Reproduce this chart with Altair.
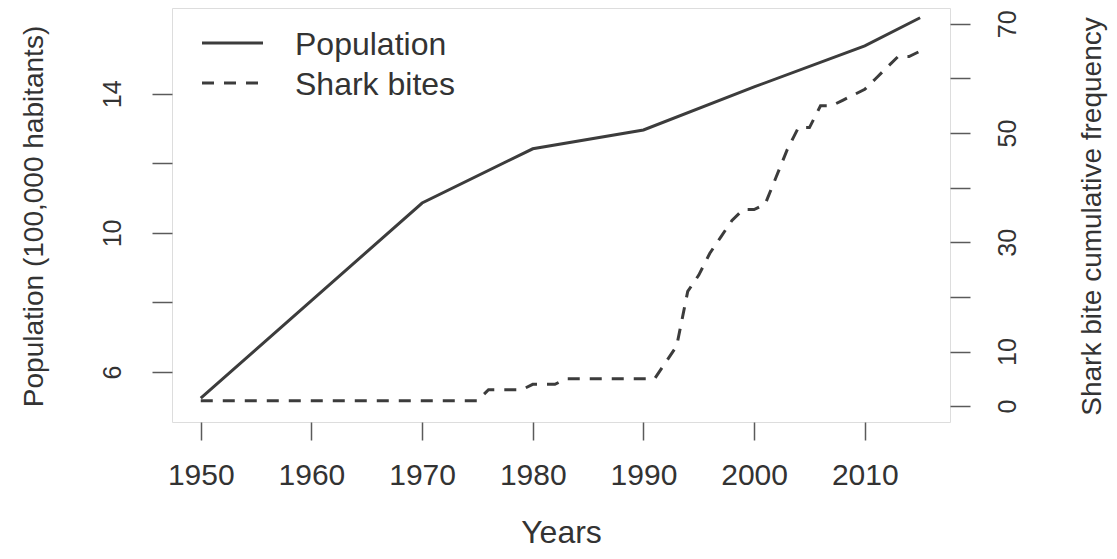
import altair as alt
import pandas as pd

# ---- data ----
pop_years = [1950, 1960, 1970, 1980, 1990, 2000, 2010, 2015]
pop_values = [5.25, 8.05, 10.86, 12.42, 12.96, 14.2, 15.38, 16.19]

shark_years = list(range(1950, 2016))
shark_values = (
    [1] * 26                      # 1950-1975
    + [3, 3, 3, 3]                # 1976-1979
    + [4, 4, 4]                   # 1980-1982
    + [5] * 9                     # 1983-1991
    + [8, 11, 21, 24, 28, 31, 34, 36, 36]   # 1992-2000
    + [37, 42, 47, 51, 51, 55, 55, 56, 57, 58]  # 2001-2010
    + [60, 62, 64, 64, 65]        # 2011-2015
)

x_ticks = [1950, 1960, 1970, 1980, 1990, 2000, 2010]
left_ticks = [6, 8, 10, 12, 14]
right_ticks = [0, 10, 20, 30, 40, 50, 60, 70]
legend_labels = ["Population", "Shark bites"]

FONT = "Liberation Sans"
LINE = "#3c3c3c"
AX = "#5a5a5a"
TXT = "#333333"

pop_df = pd.DataFrame({"year": pop_years, "pop": pop_values})
shark_df = pd.DataFrame({"year": shark_years, "bites": shark_values})

x_scale = alt.Scale(domain=[1947.4, 2017.7], nice=False, zero=False)

x_axis = alt.Axis(
    values=x_ticks, format="d", domain=False, grid=False,
    tickSize=18, tickWidth=1.5, tickColor=AX,
    labelFontSize=30, labelFont=FONT, labelColor=TXT, labelPadding=20,
    title="Years", titleFontSize=32, titleFont=FONT, titleFontWeight="normal",
    titleColor=TXT, titleY=110, titleBaseline="middle",
)

left_axis = alt.Axis(
    values=left_ticks, domain=False, grid=False,
    tickSize=20, tickWidth=1.5, tickColor=AX,
    labelExpr="datum.value % 4 == 2 ? datum.label : ''",
    labelAngle=270, labelAlign="center", labelBaseline="alphabetic",
    labelFontSize=25, labelFont=FONT, labelColor=TXT, labelPadding=32,
    title="Population (100,000 habitants)", titleFontSize=28, titleFont=FONT,
    titleFontWeight="normal", titleColor=TXT, titleAngle=270,
    titleBaseline="middle", titleAlign="center", titleX=-138, titleY=208,
)

right_axis = alt.Axis(
    orient="right", values=right_ticks, domain=False, grid=False,
    tickSize=20, tickWidth=1.5, tickColor=AX,
    labelExpr="datum.value == 0 || datum.value % 20 == 10 ? datum.label : ''",
    labelAngle=270, labelAlign="center", labelBaseline="alphabetic",
    labelFontSize=25, labelFont=FONT, labelColor=TXT, labelPadding=45,
    title="Shark bite cumulative frequency", titleFontSize=28, titleFont=FONT,
    titleFontWeight="normal", titleColor=TXT, titleAngle=270,
    titleBaseline="middle", titleAlign="center", titleX=142, titleY=208,
)

pop = alt.Chart(pop_df).mark_line(color=LINE, strokeWidth=3).encode(
    x=alt.X("year:Q", scale=x_scale, axis=x_axis),
    y=alt.Y("pop:Q", scale=alt.Scale(domain=[4.56, 16.47], nice=False, zero=False), axis=left_axis),
)

shark = alt.Chart(shark_df).mark_line(color=LINE, strokeWidth=3, strokeDash=[12, 10]).encode(
    x=alt.X("year:Q", scale=x_scale, axis=x_axis),
    y=alt.Y("bites:Q", scale=alt.Scale(domain=[-2.9, 72.9], nice=False, zero=False), axis=right_axis),
)

leg_df = pd.DataFrame({"label": legend_labels})

leg_line1 = alt.Chart(leg_df).transform_filter(alt.datum.label == legend_labels[0]).mark_rule(
    color=LINE, strokeWidth=3).encode(x=alt.value(30), x2=alt.value(91), y=alt.value(35))
leg_line2 = alt.Chart(leg_df).transform_filter(alt.datum.label == legend_labels[1]).mark_rule(
    color=LINE, strokeWidth=3, strokeDash=[12, 10]).encode(x=alt.value(30), x2=alt.value(91), y=alt.value(75))
leg_txt1 = alt.Chart(leg_df).transform_filter(alt.datum.label == legend_labels[0]).mark_text(
    align="left", baseline="middle", fontSize=32, font=FONT, color=TXT).encode(
    x=alt.value(123), y=alt.value(37), text="label:N")
leg_txt2 = alt.Chart(leg_df).transform_filter(alt.datum.label == legend_labels[1]).mark_text(
    align="left", baseline="middle", fontSize=32, font=FONT, color=TXT).encode(
    x=alt.value(123), y=alt.value(77), text="label:N")

chart = alt.layer(pop, shark, leg_line1, leg_line2, leg_txt1, leg_txt2).resolve_scale(
    y="independent"
).properties(
    width=778, height=414,
    padding={"left": 164, "top": 0, "right": 158, "bottom": 129},
    autosize=alt.AutoSizeParams(type="none"),
).configure_view(
    stroke=AX, strokeWidth=1.5
).configure(background="white")

chart.save("out.html", embed_options={"renderer": "svg", "actions": False})
